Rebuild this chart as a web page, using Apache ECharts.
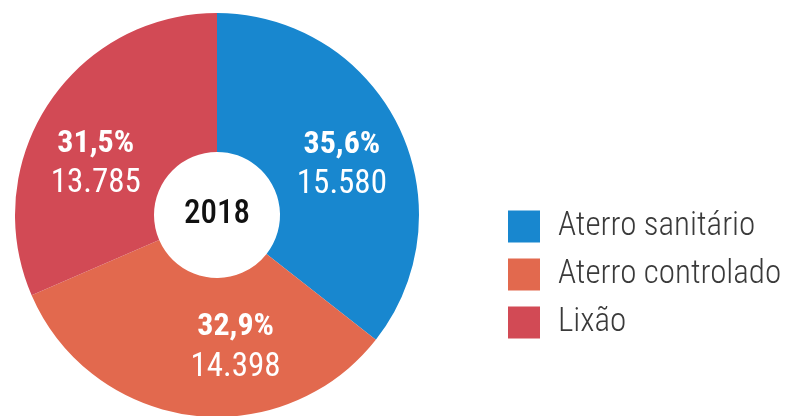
<!DOCTYPE html>
<html>
<head>
<meta charset="utf-8">
<style>
  html, body { margin: 0; padding: 0; background: #ffffff; }
  #chart { width: 786px; height: 416px; }
</style>
<script src="https://cdn.jsdelivr.net/npm/echarts@6/dist/echarts.min.js"></script>
</head>
<body>
<div id="chart"></div>
<script>
// Destinação dos resíduos — 2018
const categories = ['Aterro sanitário', 'Aterro controlado', 'Lixão'];
const values = [15580, 14398, 13785];
const percentLabels = ['35,6%', '32,9%', '31,5%'];
const yearLabel = '2018';

const colors = ['#1887cf', '#e2694e', '#d24a55'];
// fine-tuning of where each ring label sits
const labelOffsets = [[3, 9], [36, -2], [-8, 23]];

const narrowFont = '"Roboto Condensed", "Liberation Sans Narrow", "DejaVu Sans Condensed", Roboto, sans-serif';

function formatThousands(n) {
  return String(n).replace(/\B(?=(\d{3})+(?!\d))/g, '.');
}

const chart = echarts.init(document.getElementById('chart'), null, { renderer: 'canvas' });

chart.setOption({
  animation: false,
  color: colors,
  legend: {
    orient: 'vertical',
    left: 503,
    top: 205,
    icon: 'rect',
    itemWidth: 32,
    itemHeight: 32,
    itemGap: 15,
    selectedMode: false,
    textStyle: {
      fontFamily: narrowFont,
      fontSize: 33,
      fontWeight: 300,
      color: '#3a3a3a',
      padding: [0, 0, 0, 13]
    },
    data: categories
  },
  series: [{
    type: 'pie',
    center: [217, 215],
    radius: [63, 202],
    startAngle: 90,
    clockwise: true,
    silent: true,
    label: {
      show: true,
      position: 'inside',
      formatter: function (p) {
        return '{pct|' + percentLabels[p.dataIndex] + '}\n{num|' + formatThousands(p.value) + '}';
      },
      rich: {
        pct: { fontFamily: narrowFont, fontWeight: 'bold', fontSize: 32, color: '#ffffff', lineHeight: 40 },
        num: { fontFamily: narrowFont, fontWeight: 400, fontSize: 33, color: '#ffffff', lineHeight: 40 }
      }
    },
    labelLine: { show: false },
    itemStyle: { borderWidth: 0 },
    data: categories.map(function (name, i) {
      return { name: name, value: values[i], label: { offset: labelOffsets[i] } };
    })
  }],
  graphic: [{
    type: 'text',
    x: 217,
    y: 215,
    style: {
      text: yearLabel,
      fill: '#111111',
      font: '500 33px ' + narrowFont,
      align: 'center',
      verticalAlign: 'middle'
    }
  }]
});
</script>
</body>
</html>
